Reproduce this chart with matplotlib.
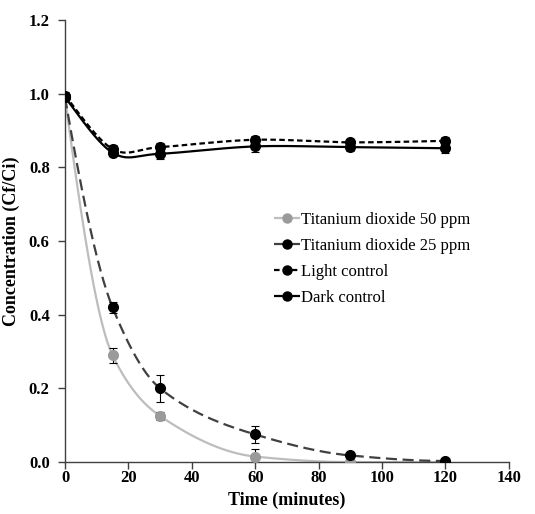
import numpy as np
import matplotlib.pyplot as plt
from matplotlib.lines import Line2D

plt.rcParams['font.family'] = ['Liberation Serif', 'DejaVu Serif']

time = [0, 15, 30, 60, 90, 120]
tio2_50 = [0.99, 0.29, 0.125, 0.015, 0.0, 0.0]
tio2_50_err = [0.01, 0.02, 0.012, 0.02, 0.0, 0.0]
tio2_25 = [0.99, 0.42, 0.20, 0.075, 0.018, 0.003]
tio2_25_err = [0.01, 0.015, 0.037, 0.022, 0.01, 0.003]
light = [0.995, 0.85, 0.855, 0.875, 0.868, 0.872]
light_err = [0.01, 0.01, 0.01, 0.01, 0.01, 0.01]
dark = [0.99, 0.84, 0.837, 0.857, 0.855, 0.852]
dark_err = [0.01, 0.01, 0.015, 0.015, 0.01, 0.012]


def bezier_smooth(x, y, n=40):
    # Excel-like smoothed line through points
    px = np.concatenate([[x[0]], x, [x[-1]]]).astype(float)
    py = np.concatenate([[y[0]], y, [y[-1]]]).astype(float)
    t = np.linspace(0, 1, n)[:, None]
    xs, ys = [], []
    for i in range(1, len(px) - 2):
        p0 = np.array([px[i], py[i]])
        p3 = np.array([px[i + 1], py[i + 1]])
        c1 = p0 + (np.array([px[i + 1], py[i + 1]]) - np.array([px[i - 1], py[i - 1]])) / 6
        c2 = p3 - (np.array([px[i + 2], py[i + 2]]) - np.array([px[i], py[i]])) / 6
        b = (1 - t) ** 3 * p0 + 3 * (1 - t) ** 2 * t * c1 + 3 * (1 - t) * t ** 2 * c2 + t ** 3 * p3
        xs.extend(b[:, 0])
        ys.extend(b[:, 1])
    return np.array(xs), np.array(ys)


def pchip_smooth(x, y, n=60):
    # monotone cubic through points (Fritsch-Carlson)
    x = np.asarray(x, float)
    y = np.asarray(y, float)
    h = np.diff(x)
    d = np.diff(y) / h
    m = np.zeros_like(y)
    for k in range(1, len(x) - 1):
        if d[k - 1] * d[k] > 0:
            w1 = 2 * h[k] + h[k - 1]
            w2 = h[k] + 2 * h[k - 1]
            m[k] = (w1 + w2) / (w1 / d[k - 1] + w2 / d[k])
    m[0] = ((2 * h[0] + h[1]) * d[0] - h[0] * d[1]) / (h[0] + h[1])
    m[-1] = 0.0
    xs, ys = [], []
    for k in range(len(h)):
        s = np.linspace(0, 1, n)
        h00 = 2 * s ** 3 - 3 * s ** 2 + 1
        h10 = s ** 3 - 2 * s ** 2 + s
        h01 = -2 * s ** 3 + 3 * s ** 2
        h11 = s ** 3 - s ** 2
        xs.extend(x[k] + s * h[k])
        ys.extend(h00 * y[k] + h10 * h[k] * m[k] + h01 * y[k + 1] + h11 * h[k] * m[k + 1])
    return np.array(xs), np.array(ys)


fig = plt.figure(figsize=(5.35, 5.14), dpi=100)
ax = fig.add_axes([0.1215, 0.101, 0.8295, 0.86])

series = [
    (tio2_50, tio2_50_err, '#bdbdbd', '#9a9a9a', (0, ()), pchip_smooth, 'Titanium dioxide 50 ppm'),
    (tio2_25, tio2_25_err, '#404040', 'black', (0, (5, 2.5)), pchip_smooth, 'Titanium dioxide 25 ppm'),
    (light, light_err, 'black', 'black', (0, (2.5, 1.5)), bezier_smooth, 'Light control'),
    (dark, dark_err, 'black', 'black', (0, ()), bezier_smooth, 'Dark control'),
]

handles = []
for vals, err, lc, mc, ls, fn, lab in series:
    sx, sy = fn(time, vals)
    ax.plot(sx, sy, color=lc, linestyle=ls, linewidth=1.6, zorder=2)
    ax.errorbar(time, vals, yerr=err, fmt='o', color=mc, ecolor='black', elinewidth=0.8,
                capsize=3, capthick=0.8, markersize=7, zorder=3)
    handles.append(Line2D([0], [0], color=lc, linestyle=ls, linewidth=1.6,
                          marker='o', markerfacecolor=mc, markeredgecolor=mc,
                          markersize=6.5, label=lab))

ax.set_xlim(0, 140)
ax.set_ylim(0, 1.2)
ax.set_xticks(np.arange(0, 141, 20))
ax.set_yticks(np.arange(0, 1.21, 0.2))
ax.set_yticklabels([f'{v:.1f}' for v in np.arange(0, 1.21, 0.2)])
for s in ['top', 'right']:
    ax.spines[s].set_visible(False)
for s in ['left', 'bottom']:
    ax.spines[s].set_color('#404040')
    ax.spines[s].set_linewidth(1.0)
ax.tick_params(direction='out', length=5, width=1, color='#404040', labelsize=12)
ax.tick_params(axis='x', pad=1)
ax.tick_params(axis='y', pad=6)
for lbl in ax.get_xticklabels() + ax.get_yticklabels():
    lbl.set_fontweight('bold')

ax.set_xlabel('Time (minutes)', fontsize=13, fontweight='bold', labelpad=4)
ax.set_ylabel('Concentration (Cf/Ci)', fontsize=13, fontweight='bold', labelpad=6)

ax.legend(handles=handles, loc='upper left', bbox_to_anchor=(0.455, 0.581), frameon=False,
          fontsize=12, handlelength=1.6, handletextpad=0.05, labelspacing=0.6, borderaxespad=0)

plt.savefig('out.png', dpi=100)
